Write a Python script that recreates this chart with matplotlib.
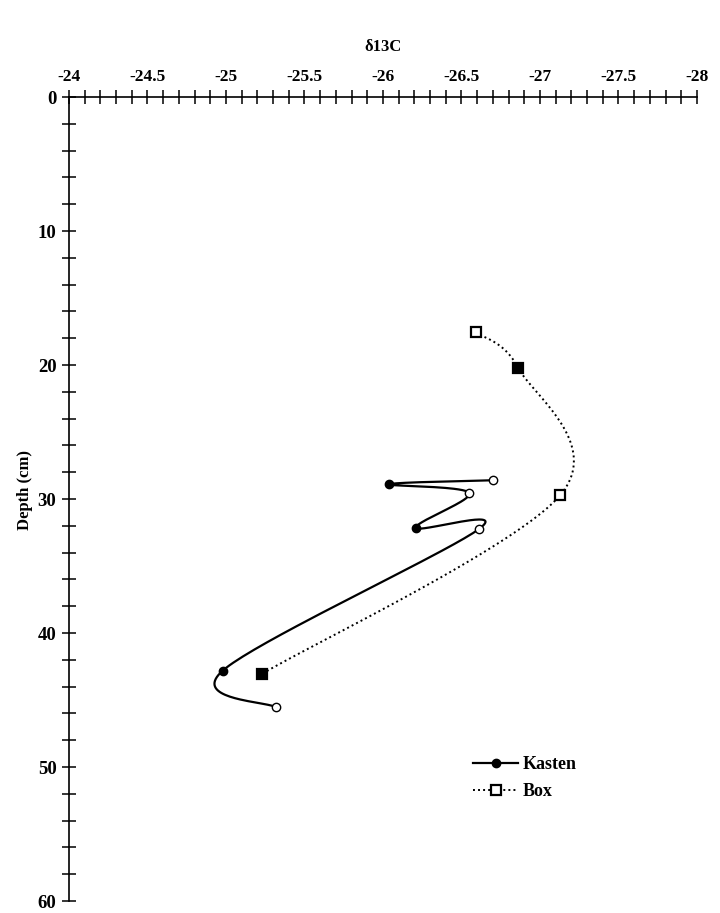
import numpy as np
import matplotlib
matplotlib.use("Agg")
import matplotlib.pyplot as plt
from matplotlib.lines import Line2D

plt.rcParams['font.family'] = ['Liberation Serif', 'DejaVu Serif']
plt.rcParams['font.weight'] = 'bold'

# Kasten core: d13C vs depth (filled flag marks solid markers)
kasten_d13c = [-26.70, -26.04, -26.55, -26.21, -26.61, -24.98, -25.32]
kasten_depth = [28.6, 28.9, 29.55, 32.15, 32.25, 42.8, 45.55]
kasten_filled = [False, True, False, True, False, True, False]

# Box core
box_d13c = [-26.59, -26.86, -27.13, -25.23]
box_depth = [17.55, 20.2, 29.7, 43.05]
box_filled = [False, True, False, True]

x_ticks = [-24, -24.5, -25, -25.5, -26, -26.5, -27, -27.5, -28]
y_ticks = [0, 10, 20, 30, 40, 50, 60]

fig = plt.figure(figsize=(7.2, 9.13), dpi=100)
ax = fig.add_axes([69/720, 1-901/913, (697-69)/720, (901-97)/913])
ax.set_xlim(-24, -28)
ax.set_ylim(60, 0)


def smooth(ax, xs, ys, n=40):
    """Catmull-Rom curve through the points, built in display space."""
    pts = ax.transData.transform(np.column_stack([xs, ys]))
    P = np.vstack([pts[0], pts, pts[-1]])
    out = []
    for i in range(1, len(P) - 2):
        p0, p1, p2, p3 = P[i-1], P[i], P[i+1], P[i+2]
        c1 = p1 + (p2 - p0) / 6.0
        c2 = p2 - (p3 - p1) / 6.0
        t = np.linspace(0, 1, n)[:, None]
        seg = ((1-t)**3)*p1 + 3*((1-t)**2)*t*c1 + 3*(1-t)*(t**2)*c2 + (t**3)*p2
        out.append(seg if i == 1 else seg[1:])
    curve = np.vstack(out)
    return ax.transData.inverted().transform(curve)

kc = smooth(ax, kasten_d13c, kasten_depth)
ax.plot(kc[:, 0], kc[:, 1], color='black', lw=1.6, zorder=2)
bc = smooth(ax, box_d13c, box_depth)
ax.plot(bc[:, 0], bc[:, 1], color='black', lw=1.4, ls=(0, (1, 1.6)), zorder=2)

for x, y, f in zip(kasten_d13c, kasten_depth, kasten_filled):
    ax.plot(x, y, 'o', ms=6.0, mec='black', mew=1.0,
            mfc='black' if f else 'white', zorder=3)
for x, y, f in zip(box_d13c, box_depth, box_filled):
    ax.plot(x, y, 's', ms=7.5, mec='black', mew=1.6,
            mfc='black' if f else 'white', zorder=3)

for s in ['right', 'bottom']:
    ax.spines[s].set_visible(False)
for s in ['left', 'top']:
    ax.spines[s].set_linewidth(1.2)

ax.xaxis.tick_top()
ax.set_xticks(x_ticks)
ax.set_xticklabels([f"{v:g}" for v in x_ticks])
ax.set_xticks(np.arange(-24, -28.01, -0.1), minor=True)
ax.set_yticks(y_ticks)
ax.set_yticklabels([str(v) for v in y_ticks])
ax.set_yticks(np.arange(0, 60.1, 2), minor=True)
ax.tick_params(which='both', direction='inout', length=10, width=1.1)
ax.tick_params(axis='x', which='major', pad=4, labelsize=12.5)
ax.tick_params(axis='y', which='major', pad=4, labelsize=13.5)

for lab in ax.get_xticklabels() + ax.get_yticklabels():
    lab.set_fontweight('bold')

fig.text(383/720, 1-47/913, "δ13C", ha='center', va='center',
         fontsize=12, fontweight='bold')
fig.text(25/720, 1-490/913, "Depth (cm)", ha='center', va='center',
         rotation=90, fontsize=12, fontweight='bold')

handles = [
    Line2D([], [], color='black', lw=1.6, marker='o', ms=6.0, mfc='black',
           mec='black'),
    Line2D([], [], color='black', lw=1.4, ls=(0, (1, 1.6)), marker='s',
           ms=7.5, mfc='white', mec='black', mew=1.6),
]
leg = ax.legend(handles, ["Kasten", "Box"], frameon=False,
                loc='upper left', bbox_to_anchor=(457/720, 1-740/913),
                bbox_transform=fig.transFigure, handlelength=2.5,
                handletextpad=0.25, labelspacing=0.55,
                prop={'family': 'Liberation Serif', 'weight': 'bold',
                      'size': 13})

fig.savefig("out.png", dpi=100)
